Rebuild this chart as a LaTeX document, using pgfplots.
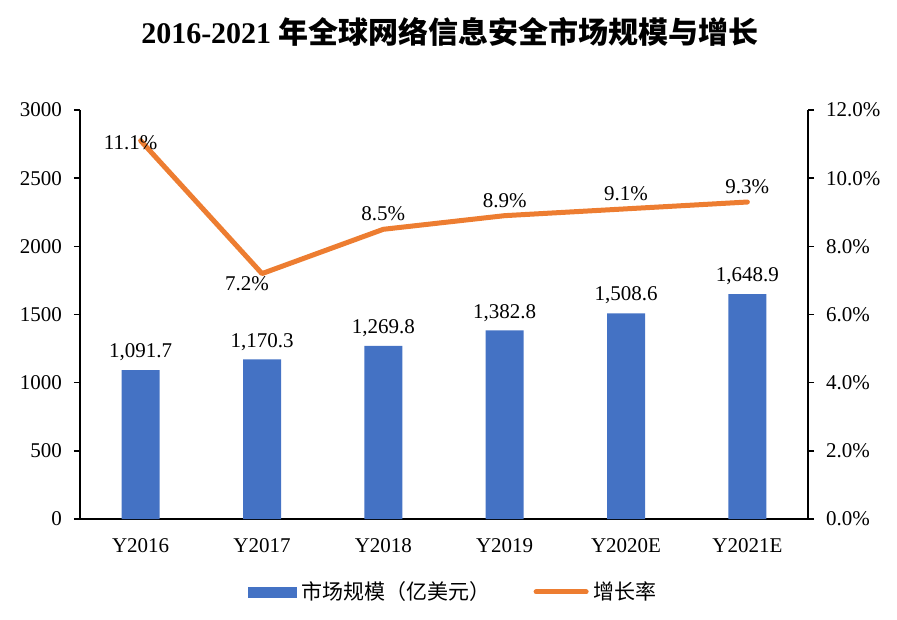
\documentclass[border=0pt]{standalone}
\usepackage{pgfplots}
\pgfplotsset{compat=1.18}
\usepackage{fontspec}
\setmainfont{Liberation Serif}
\newfontfamily\cjk{Noto Sans CJK SC}
\definecolor{barblue}{HTML}{4472C4}
\definecolor{lineorange}{HTML}{ED7D31}
\begin{document}
\fontsize{21}{25}\selectfont
\begin{tikzpicture}
\useasboundingbox (-80pt,-100pt) rectangle (817pt,519pt);
\node[font=\fontsize{30}{36}\selectfont\bfseries] at (370pt,487pt) {2016-2021 {\cjk 年全球网络信息安全市场规模与增长}};
\begin{axis}[
  at={(0pt,0pt)}, anchor=south west,
  scale only axis, width=728pt, height=409pt,
  xmin=-0.5, xmax=5.5, ymin=0, ymax=3000,
  ytick={0,500,...,3000},
  xtick={0,...,5},
  xticklabels={Y2016,Y2017,Y2018,Y2019,Y2020E,Y2021E},
  axis x line*=bottom, axis y line*=left,
  axis line style={line width=1.5pt, -},
  tick align=outside, major tick length=6pt,
  xtick style={draw=none},
  ytick style={line width=1.5pt, black},
  /pgf/number format/assume math mode=true,
  yticklabel style={/pgf/number format/1000 sep={}, xshift=-5pt},
  xticklabel style={yshift=-6pt},
  ybar, bar width=38pt,
  nodes near coords={\pgfmathprintnumber[fixed,fixed zerofill,precision=1,1000 sep={,}]{\pgfplotspointmeta}},
  every node near coord/.append style={black, anchor=south, yshift=2pt},
]
\addplot[fill=barblue, draw=none] coordinates {(0,1091.7) (1,1170.3) (2,1269.8) (3,1382.8) (4,1508.6) (5,1648.9)};
\end{axis}
\begin{axis}[
  at={(0pt,0pt)}, anchor=south west,
  scale only axis, width=728pt, height=409pt,
  xmin=-0.5, xmax=5.5, ymin=0, ymax=12,
  axis x line=none, axis y line*=right,
  axis line style={line width=1.5pt, -},
  tick align=outside, major tick length=6pt,
  ytick style={line width=1.5pt, black},
  ytick={0,2,...,12},
  /pgf/number format/assume math mode=true,
  yticklabel={\pgfmathprintnumber[fixed,fixed zerofill,precision=1]{\tick}\%},
  yticklabel style={xshift=5pt},
  legend style={at={(0.515,-0.178)}, anchor=center, draw=none, fill=none, legend columns=2, font=\cjk,
    /tikz/every even column/.style={column sep=38pt},
    nodes={inner xsep=5pt}},
]
\addlegendimage{legend image code/.code={\fill[barblue] (0pt,-5pt) rectangle (48pt,5pt);}}
\addlegendentry{市场规模（亿美元）}
\addplot[lineorange, line width=5pt, line join=round, line cap=round, mark=none,
  legend image code/.code={\draw[lineorange,line width=5pt,line cap=round] (0pt,0pt) -- (50pt,0pt);}]
  coordinates {(0,11.1) (1,7.2) (2,8.5) (3,8.9) (4,9.1) (5,9.3)};
\addlegendentry{增长率}
\addplot[draw=none, mark=none, forget plot,
  nodes near coords={\pgfmathprintnumber[fixed,fixed zerofill,precision=1]{\pgfplotspointmeta}\%},
  every node near coord/.append style={black, anchor=center, xshift=-10pt, yshift=-2pt}]
  coordinates {(0,11.1)};
\addplot[draw=none, mark=none, forget plot,
  nodes near coords={\pgfmathprintnumber[fixed,fixed zerofill,precision=1]{\pgfplotspointmeta}\%},
  every node near coord/.append style={black, anchor=center, xshift=-15pt, yshift=-10pt}]
  coordinates {(1,7.2)};
\addplot[draw=none, mark=none, forget plot,
  nodes near coords={\pgfmathprintnumber[fixed,fixed zerofill,precision=1]{\pgfplotspointmeta}\%},
  every node near coord/.append style={black, anchor=south, yshift=1pt}]
  coordinates {(2,8.5) (3,8.9) (4,9.1) (5,9.3)};
\end{axis}
\end{tikzpicture}
\end{document}
